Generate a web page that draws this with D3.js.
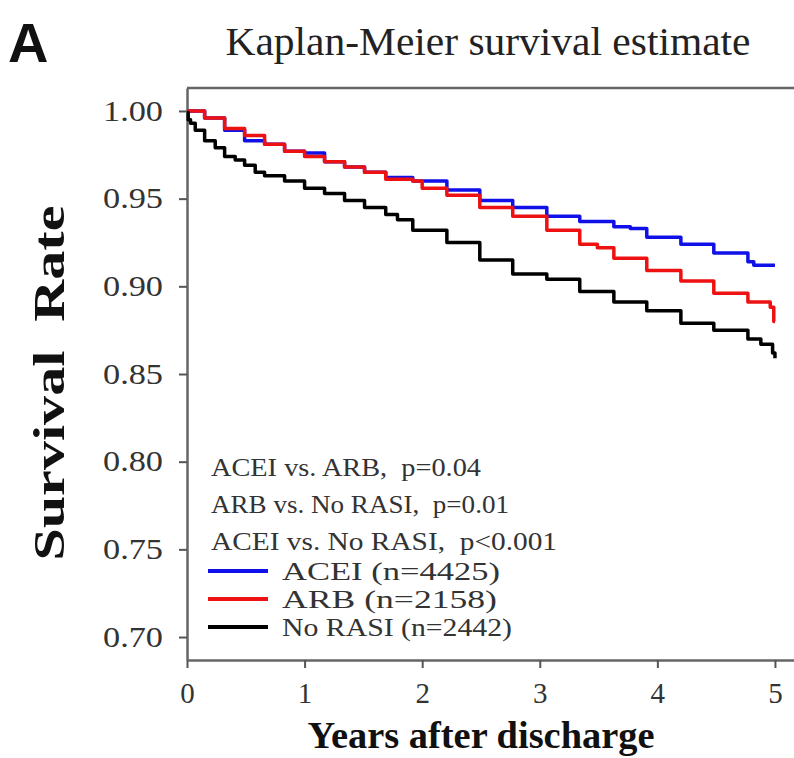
<!DOCTYPE html>
<html>
<head>
<meta charset="utf-8">
<script src="https://cdn.jsdelivr.net/npm/d3@7"></script>
<style>
  body { margin: 0; background: #fff; }
  svg { display: block; }
</style>
</head>
<body>
<div id="chart"></div>
<script>
// survival curves (years, survival)
const acei = [
  [0, 1.000], [0.15, 0.996], [0.32, 0.989], [0.49, 0.983], [0.66, 0.981], [0.83, 0.977],
  [1.0, 0.976], [1.17, 0.971], [1.34, 0.968], [1.51, 0.965], [1.69, 0.962], [1.92, 0.960],
  [2.21, 0.955], [2.49, 0.949], [2.77, 0.945], [3.06, 0.940], [3.34, 0.937], [3.63, 0.934],
  [3.77, 0.933], [3.91, 0.928], [4.2, 0.924], [4.48, 0.919], [4.77, 0.914], [4.82, 0.912],
  [5.0, 0.912]
];
const arb = [
  [0, 1.000], [0.15, 0.996], [0.32, 0.990], [0.49, 0.986], [0.66, 0.981], [0.83, 0.977],
  [1.0, 0.974], [1.17, 0.971], [1.34, 0.968], [1.51, 0.965], [1.69, 0.961], [1.92, 0.960],
  [2.0, 0.956], [2.21, 0.952], [2.49, 0.945], [2.77, 0.940], [3.06, 0.932], [3.34, 0.924],
  [3.49, 0.922], [3.63, 0.916], [3.91, 0.909], [4.2, 0.903], [4.48, 0.896], [4.77, 0.891],
  [4.96, 0.888], [4.99, 0.880], [5.0, 0.880]
];
const noRasi = [
  [0, 0.999], [0.01, 0.995], [0.03, 0.993], [0.07, 0.989], [0.15, 0.983], [0.24, 0.979],
  [0.32, 0.974], [0.41, 0.972], [0.49, 0.969], [0.58, 0.965], [0.66, 0.963], [0.83, 0.960],
  [1.0, 0.956], [1.17, 0.953], [1.34, 0.949], [1.51, 0.945], [1.69, 0.941], [1.79, 0.938],
  [1.92, 0.932], [2.21, 0.925], [2.49, 0.915], [2.77, 0.907], [3.06, 0.904], [3.34, 0.897],
  [3.63, 0.891], [3.91, 0.886], [4.2, 0.879], [4.48, 0.875], [4.77, 0.870], [4.88, 0.867],
  [4.98, 0.862], [5.0, 0.859]
];

const seriesNames = ["ACEI (n=4425)", "ARB (n=2158)", "No RASI (n=2442)"];
const seriesColors = ["#1010e8", "#ee1111", "#000000"];
const pValues = ["ACEI vs. ARB,  p=0.04", "ARB vs. No RASI,  p=0.01", "ACEI vs. No RASI,  p<0.001"];
const xTicks = [0, 1, 2, 3, 4, 5];
const yTicks = [0.70, 0.75, 0.80, 0.85, 0.90, 0.95, 1.00];

// text widths measured on the reference (it is stretched sideways)
const pWidths = [270, 298, 346];
const legendWidths = [218, 215, 230];

const w = 794, h = 758;
const plot = { left: 187, right: 794, top: 88, bottom: 660 };
const serif = "'Liberation Serif', 'Times New Roman', serif";

const svg = d3.select("#chart").append("svg")
  .attr("width", w).attr("height", h);

const x = d3.scaleLinear().domain([0, 5.162]).range([plot.left, plot.right]);
const y = d3.scaleLinear().domain([0.6869, 1.0131]).range([plot.bottom, plot.top]);

// panel letter + title
svg.append("text")
  .attr("x", 8).attr("y", 62)
  .text("A")
  .style("font-family", "'Liberation Sans', Arial, sans-serif")
  .style("font-weight", "bold")
  .style("font-size", "56px")
  .style("fill", "#111");

svg.append("text")
  .attr("x", 488).attr("y", 55)
  .attr("text-anchor", "middle")
  .attr("textLength", 525).attr("lengthAdjust", "spacingAndGlyphs")
  .text("Kaplan-Meier survival estimate")
  .style("font-family", serif)
  .style("font-size", "41px")
  .style("fill", "#222");

// top border of the frame
svg.append("line")
  .attr("x1", plot.left).attr("x2", plot.right)
  .attr("y1", plot.top).attr("y2", plot.top)
  .attr("stroke", "#666").attr("stroke-width", 2.5);

const xAxis = d3.axisBottom(x).tickValues(xTicks).tickSize(8).tickSizeOuter(0)
  .tickFormat(d3.format("d"));
const yAxis = d3.axisLeft(y).tickValues(yTicks).tickSize(8).tickSizeOuter(0)
  .tickFormat(d3.format(".2f"));

const gx = svg.append("g")
  .attr("transform", `translate(0, ${plot.bottom})`)
  .call(xAxis);
const gy = svg.append("g")
  .attr("transform", `translate(${plot.left}, 0)`)
  .call(yAxis);

[gx, gy].forEach(g => {
  g.select(".domain").attr("stroke", "#666").attr("stroke-width", 2.5);
  g.selectAll(".tick line").attr("stroke", "#555").attr("stroke-width", 2);
  g.selectAll(".tick text")
    .style("font-family", serif)
    .style("font-size", "29px")
    .style("fill", "#333");
});
gx.selectAll(".tick text").attr("y", 22);
gy.selectAll(".tick text").attr("x", -24)
  .attr("textLength", 60).attr("lengthAdjust", "spacingAndGlyphs");

// axis titles
svg.append("text")
  .attr("x", 481).attr("y", 748)
  .attr("text-anchor", "middle")
  .attr("textLength", 347).attr("lengthAdjust", "spacingAndGlyphs")
  .text("Years after discharge")
  .style("font-family", serif)
  .style("font-weight", "bold")
  .style("font-size", "38px")
  .style("fill", "#111");

svg.append("text")
  .attr("transform", "translate(64, 383) rotate(-90)")
  .attr("text-anchor", "middle")
  .attr("textLength", 355).attr("lengthAdjust", "spacingAndGlyphs")
  .attr("xml:space", "preserve")
  .text("Survival  Rate")
  .style("font-family", serif)
  .style("font-weight", "bold")
  .style("font-size", "44px")
  .style("fill", "#111");

// curves
const line = d3.line()
  .x(d => x(d[0]))
  .y(d => y(d[1]))
  .curve(d3.curveStepAfter);

[acei, arb, noRasi].forEach((s, i) => {
  svg.append("path")
    .datum(s)
    .attr("d", line)
    .attr("fill", "none")
    .attr("stroke", seriesColors[i])
    .attr("stroke-width", 3.5)
    .attr("stroke-linejoin", "round");
});

// p-values
pValues.forEach((t, i) => {
  svg.append("text")
    .attr("x", 211).attr("y", 476 + i * 37)
    .attr("xml:space", "preserve")
    .attr("textLength", pWidths[i]).attr("lengthAdjust", "spacingAndGlyphs")
    .text(t)
    .style("font-family", serif)
    .style("font-size", "26px")
    .style("fill", "#333");
});

// legend
seriesNames.forEach((t, i) => {
  const ly = 571 + i * 28;
  svg.append("line")
    .attr("x1", 208).attr("x2", 268)
    .attr("y1", ly).attr("y2", ly)
    .attr("stroke", seriesColors[i]).attr("stroke-width", 4);
  svg.append("text")
    .attr("x", 282).attr("y", ly + 9)
    .attr("textLength", legendWidths[i]).attr("lengthAdjust", "spacingAndGlyphs")
    .text(t)
    .style("font-family", serif)
    .style("font-size", "26px")
    .style("fill", "#333");
});
</script>
</body>
</html>
